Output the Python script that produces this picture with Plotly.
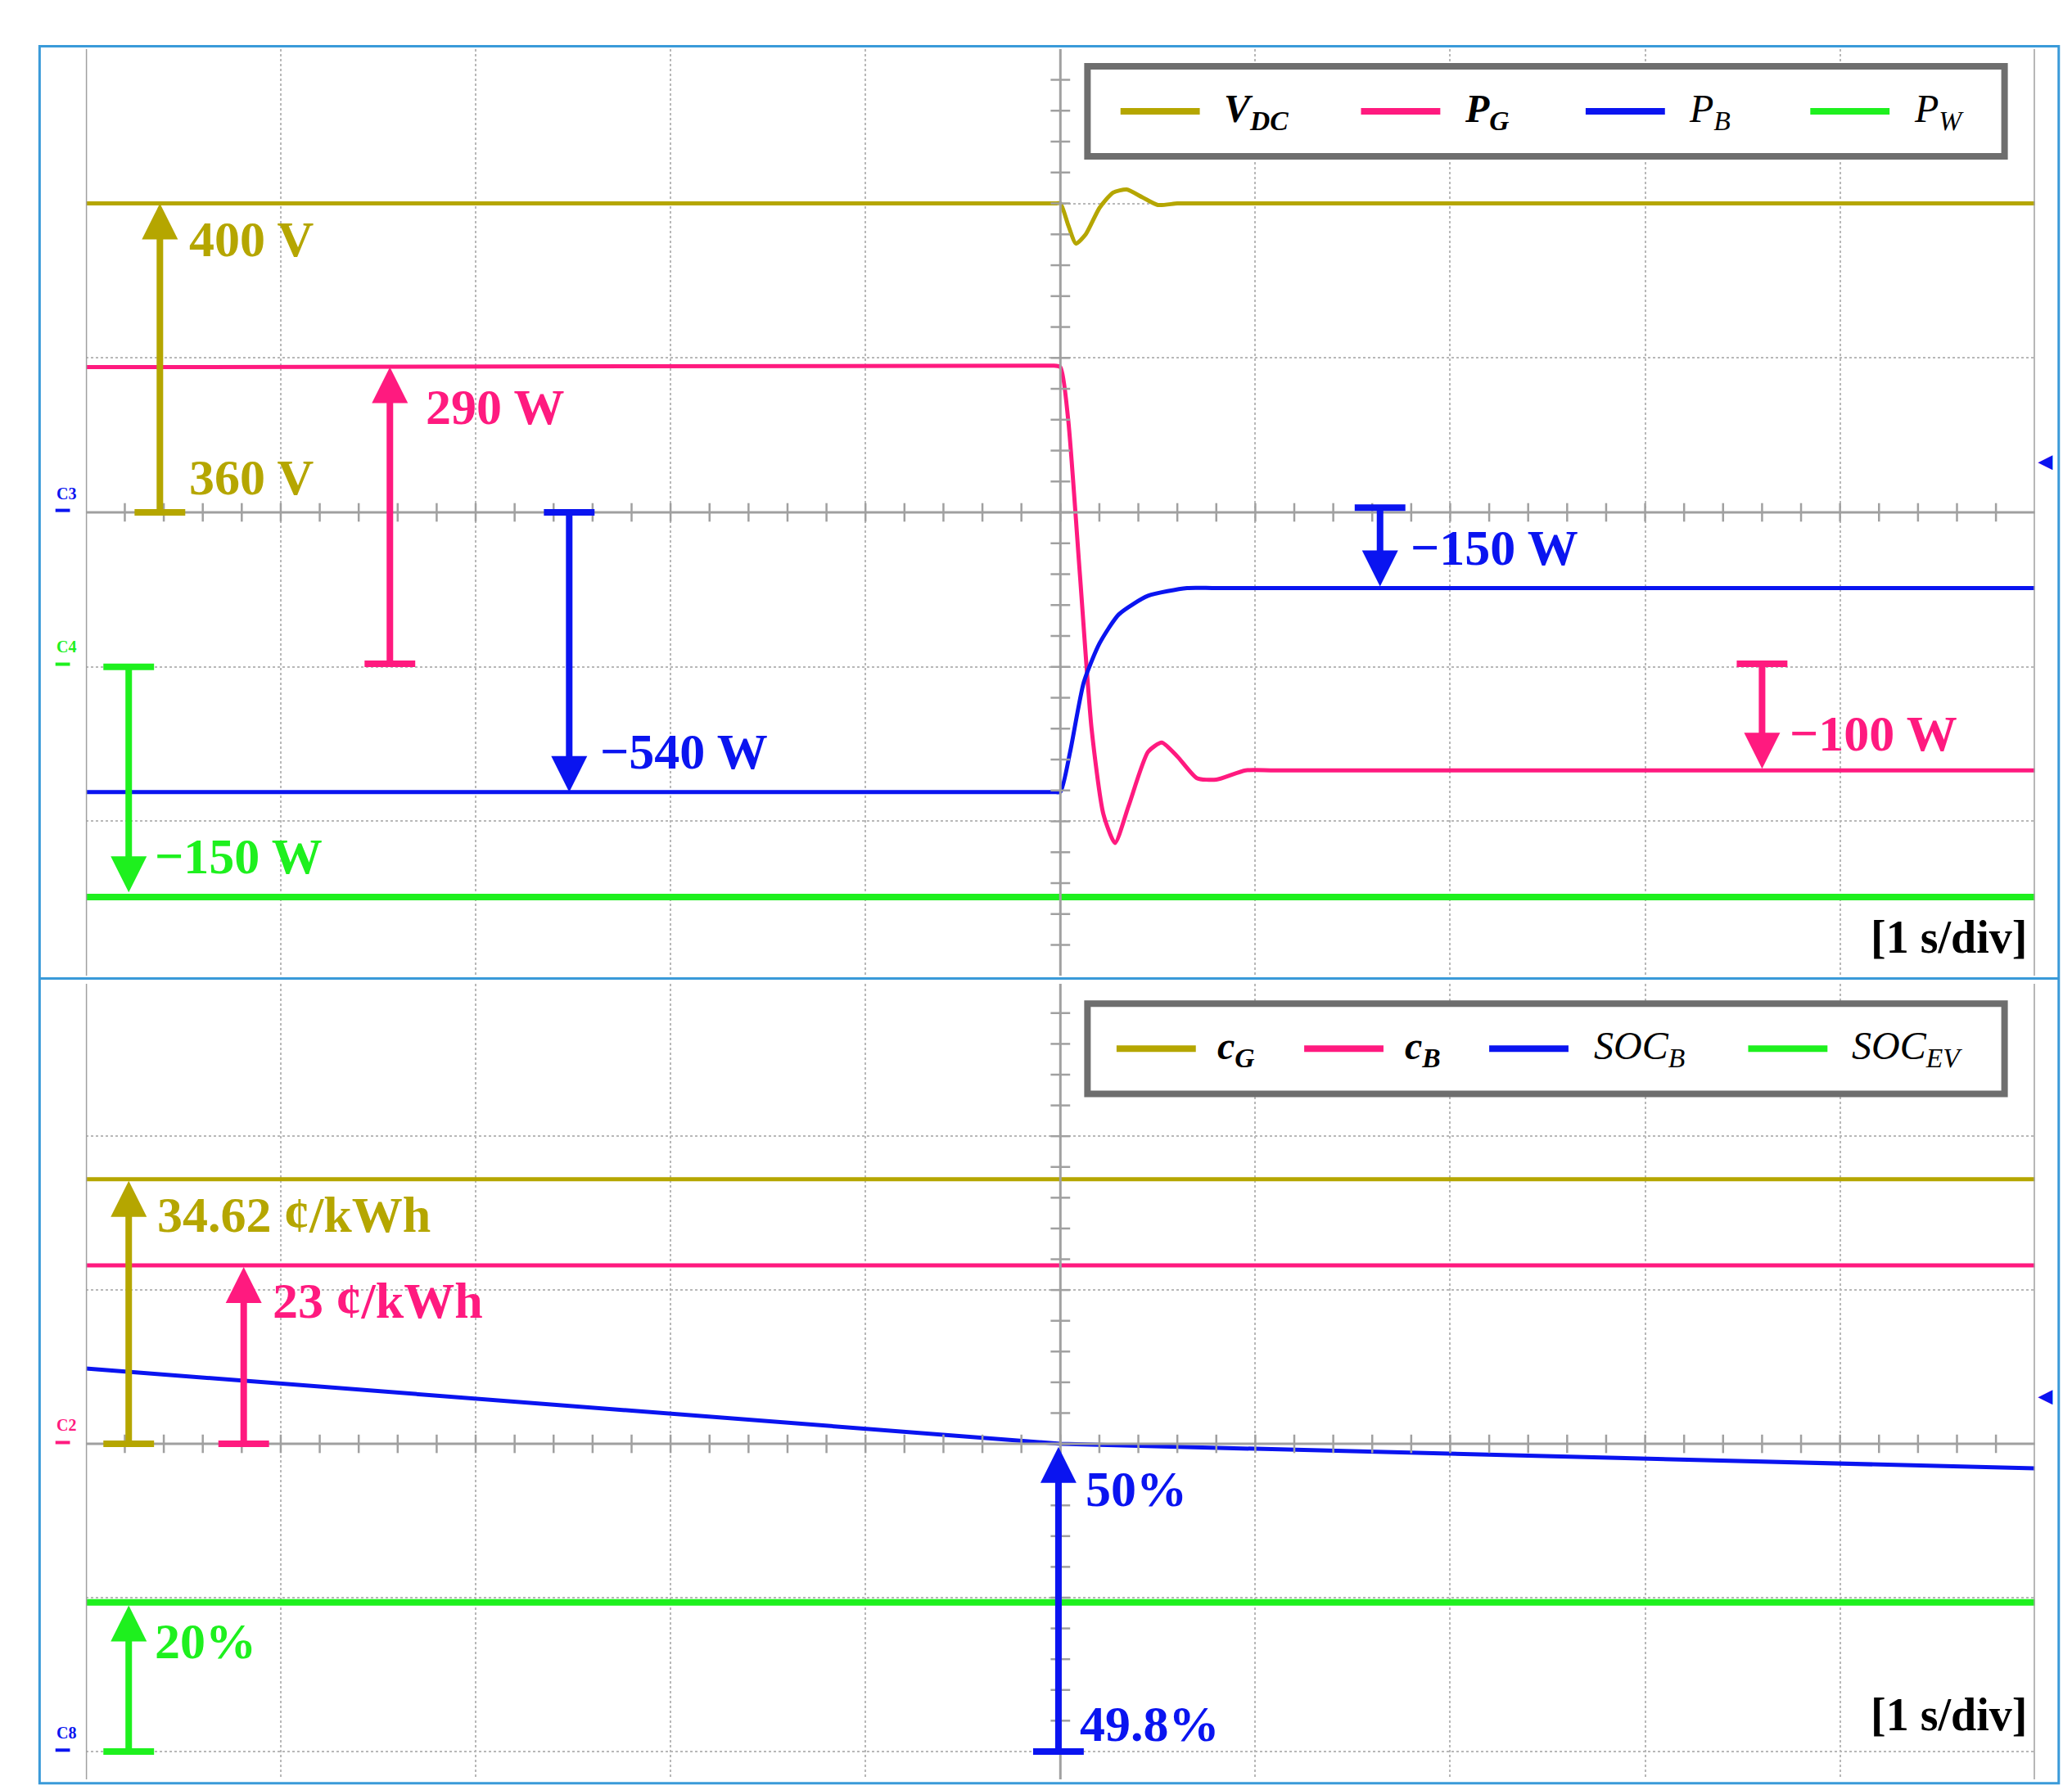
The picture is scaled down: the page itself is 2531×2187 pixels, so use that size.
import plotly.graph_objects as go

W, H = 2531, 2187
DW, DH = 1568.0, 1350.0  # reference coordinates used for layout reading

# ---------------- data (time in s = div, amplitude in divisions) ----------------
t_vdc = [0, 4.9, 4.97, 5.0, 5.04, 5.08, 5.13, 5.2, 5.27, 5.34, 5.42, 5.5, 5.6, 5.7, 10]
vdc   = [2.0, 2.0, 2.0, 2.0, 1.86, 1.74, 1.8, 1.97, 2.07, 2.09, 2.04, 1.99, 2.0, 2.0, 2.0]
t_pg  = [0, 4.9, 4.96, 5.0, 5.04, 5.1, 5.16, 5.22, 5.28, 5.35, 5.45, 5.52, 5.6, 5.7, 5.8, 5.95, 6.1, 10]
pg    = [0.94, 0.95, 0.95, 0.94, 0.6, -0.4, -1.4, -1.95, -2.14, -1.9, -1.55, -1.49, -1.58, -1.72, -1.73, -1.67, -1.67, -1.67]
t_pb  = [0, 4.9, 4.97, 5.0, 5.05, 5.12, 5.2, 5.3, 5.45, 5.65, 5.8, 10]
pb    = [-1.81, -1.81, -1.81, -1.81, -1.55, -1.1, -0.85, -0.66, -0.54, -0.49, -0.49, -0.49]
t_pw  = [0, 10]
pw    = [-2.49, -2.49]

t_cg = [0, 10]; cg = [1.72, 1.72]
t_cb = [0, 10]; cb = [1.16, 1.16]
t_socb = [0, 5.0, 10]; socb = [0.49, 0.0, -0.16]
t_socev = [0, 10]; socev = [-1.03, -1.03]

OLIVE, PINK, BLUE, GREEN = "#b5a600", "#ff1a7f", "#0a14f0", "#1ef01e"

fig = go.Figure()
XD = [60/DW, 1535/DW]
TOP = [1-731/DH, 1-32/DH]
BOT = [1-1337/DH, 1-737/DH]
grid = dict(showgrid=True, gridcolor="#b8b8b8", griddash="dot", gridwidth=2,
            zeroline=False, showticklabels=False, ticks="", showline=False)
fig.update_layout(
    width=W, height=H, margin=dict(l=0, r=0, t=0, b=0),
    paper_bgcolor="white", plot_bgcolor="white", showlegend=False,
    xaxis=dict(domain=XD, range=[0, 10], dtick=1, anchor="y", **grid),
    yaxis=dict(domain=TOP, range=[-3, 3], dtick=1, anchor="x", **grid),
    xaxis2=dict(domain=XD, range=[0, 10], dtick=1, anchor="y2", **grid),
    yaxis2=dict(domain=BOT, range=[-2.181, 2.991], dtick=1, tick0=0, anchor="x2", **grid),
)

def tr(x, y, c, ax, w=5, smooth=False):
    ln = dict(color=c, width=w)
    if smooth:
        ln.update(shape="spline", smoothing=0.6)
    fig.add_trace(go.Scatter(x=x, y=y, mode="lines", line=ln,
                             xaxis="x" if ax == 1 else "x2", yaxis="y" if ax == 1 else "y2"))

shapes = []
def line(x0, y0, x1, y1, c, w, ax=1, dash=None, ref="data"):
    d = dict(type="line", x0=x0, y0=y0, x1=x1, y1=y1, line=dict(color=c, width=w))
    if dash: d["line"]["dash"] = dash
    if ref == "data":
        d["xref"] = "x" if ax == 1 else "x2"; d["yref"] = "y" if ax == 1 else "y2"
    else:
        d["xref"] = "paper"; d["yref"] = "paper"
    shapes.append(d)

# center crosshair lines with minor ticks
for ax, (ylo, yhi) in [(1, (-3, 3)), (2, (-2.181, 2.991))]:
    line(0, 0, 10, 0, "#a0a0a0", 3, ax)
    line(5, ylo, 5, yhi, "#a0a0a0", 3, ax)
    line(0, ylo, 0, yhi, "#a0a0a0", 3, ax)
    line(10, ylo, 10, yhi, "#a0a0a0", 3, ax)
    for i in range(1, 50):
        x = i * 0.2
        line(x, -0.06, x, 0.06, "#a0a0a0", 2.5, ax)
    k = int(ylo / 0.2) - 1
    while k * 0.2 <= yhi:
        y = k * 0.2
        if ylo < y < yhi:
            line(4.95, y, 5.05, y, "#a0a0a0", 2.5, ax)
        k += 1

tr(t_vdc, vdc, OLIVE, 1, smooth=True); tr(t_pg, pg, PINK, 1, smooth=True)
tr(t_pb, pb, BLUE, 1, smooth=True); tr(t_pw, pw, GREEN, 1, 8)
tr(t_cg, cg, OLIVE, 2); tr(t_cb, cb, PINK, 2); tr(t_socb, socb, BLUE, 2); tr(t_socev, socev, GREEN, 2, 8)

anns = []
FONT = "Liberation Serif"
def arrow(x, ytail, yhead, c, ax=1):
    xr = "x" if ax == 1 else "x2"; yr = "y" if ax == 1 else "y2"
    anns.append(dict(x=x, y=yhead, ax=x, ay=ytail, xref=xr, yref=yr, axref=xr, ayref=yr,
                     showarrow=True, arrowhead=2, arrowsize=1.1, arrowwidth=8, arrowcolor=c, text=""))
    line(x - 0.13, ytail, x + 0.13, ytail, c, 8, ax)

def txt(px, py, s, c, size=62, anchor="left", ital=False, bold=True):
    anns.append(dict(x=px/DW, y=1-py/DH, xref="paper", yref="paper", text=s, showarrow=False,
                     xanchor=anchor, yanchor="middle",
                     font=dict(family=FONT, size=size, color=c,
                               style="italic" if ital else "normal",
                               weight="bold" if bold else "normal")))

# top panel annotations
arrow(0.38, 0, 2.0, OLIVE); txt(137, 175, "400 V", OLIVE); txt(137, 355, "360 V", OLIVE)
arrow(1.56, -0.98, 0.94, PINK); txt(316, 302, "290 W", PINK)
arrow(2.48, 0, -1.81, BLUE); txt(448, 562, "\u2212540 W", BLUE)
arrow(0.22, -1.0, -2.46, GREEN); txt(111, 641, "\u2212150 W", GREEN)
arrow(6.64, 0.03, -0.48, BLUE); txt(1061, 408, "\u2212150 W", BLUE)
arrow(8.6, -0.98, -1.66, PINK); txt(1348, 548, "\u2212100 W", PINK)
txt(1530, 702, "[1 s/div]", "black", 56, "right")
# bottom panel annotations
arrow(0.22, 0, 1.71, OLIVE, 2); txt(113, 911, "34.62 \u00a2/kWh", OLIVE)
arrow(0.81, 0, 1.15, PINK, 2); txt(200, 976, "23 \u00a2/kWh", PINK)
arrow(4.99, -2.0, -0.02, BLUE, 2); txt(815, 1118, "50%", BLUE); txt(811, 1295, "49.8%", BLUE)
arrow(0.22, -2.0, -1.05, GREEN, 2); txt(111, 1233, "20%", GREEN)
txt(1530, 1288, "[1 s/div]", "black", 56, "right")

# small channel markers
for px, py, s, c in [(45, 367, "C3", BLUE), (45, 483, "C4", GREEN), (45, 1070, "C2", PINK), (45, 1302, "C8", BLUE)]:
    txt(px, py, s, c, 20, "center")
    line((px-8)/DW, 1-(py+13)/DH, (px+3)/DW, 1-(py+13)/DH, c, 4, ref="paper")
for py in (343, 1048):
    txt(1543, py, "\u25c0", BLUE, 22, "center")

# outer frame
def rect(x0, y0, x1, y1, c, w, fill=None):
    d = dict(type="rect", xref="paper", yref="paper", x0=x0/DW, x1=x1/DW, y0=1-y1/DH, y1=1-y0/DH,
             line=dict(color=c, width=w))
    if fill: d["fillcolor"] = fill
    shapes.append(d)
rect(25, 30, 1553, 1340, "#3a9ad9", 3)
line(25/DW, 1-733/DH, 1553/DW, 1-733/DH, "#3a9ad9", 3, ref="paper")

# legend boxes
def legend(y0, y1, items):
    rect(818, y0, 1512, y1, "#6e6e6e", 8, "white")
    yc = (y0 + y1) / 2
    for lx0, lx1, tx, label, c, b in items:
        line(lx0/DW, 1-yc/DH, lx1/DW, 1-yc/DH, c, 8, ref="paper")
        txt(tx, yc, label, "black", 48, "left", ital=True, bold=b)

legend(45, 113, [(843, 903, 920, "V<sub>DC</sub>", OLIVE, True), (1025, 1085, 1102, "P<sub>G</sub>", PINK, True),
                 (1195, 1255, 1272, "P<sub>B</sub>", BLUE, False), (1365, 1425, 1442, "P<sub>W</sub>", GREEN, False)])
legend(752, 820, [(840, 900, 915, "c<sub>G</sub>", OLIVE, True), (982, 1042, 1057, "c<sub>B</sub>", PINK, True),
                  (1122, 1182, 1200, "SOC<sub>B</sub>", BLUE, False), (1318, 1378, 1395, "SOC<sub>EV</sub>", GREEN, False)])

fig.update_layout(shapes=shapes, annotations=anns)
fig.write_html("out.html")
